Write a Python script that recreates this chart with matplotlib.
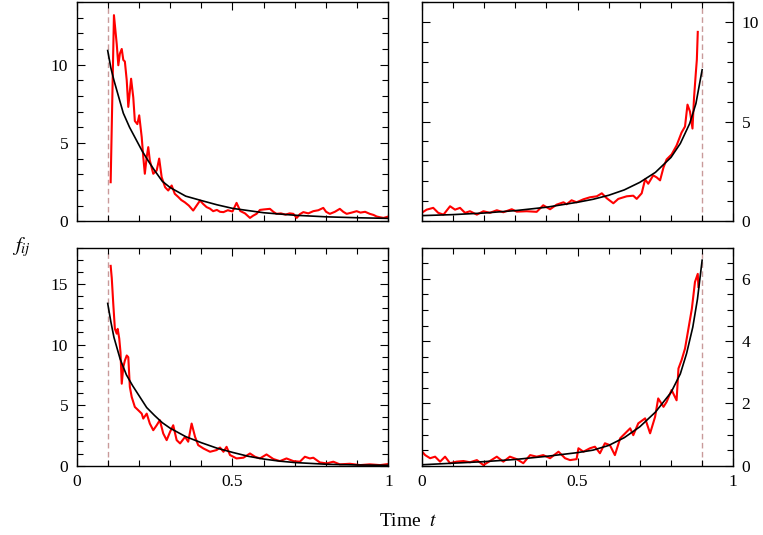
import matplotlib
matplotlib.use("Agg")
import matplotlib.pyplot as plt
from matplotlib.ticker import MultipleLocator

plt.rcParams['font.family'] = ['Liberation Serif', 'DejaVu Serif']
plt.rcParams['mathtext.fontset'] = 'stix'

# ---------------- data ----------------
# Top-left
tl_red_t = [0.1095, 0.12, 0.129, 0.134, 0.139, 0.145, 0.150, 0.155, 0.161, 0.166, 0.175, 0.182, 0.187,
            0.195, 0.201, 0.209, 0.214, 0.219, 0.225, 0.230, 0.235, 0.246, 0.257, 0.265, 0.273, 0.284,
            0.294, 0.305, 0.315, 0.326, 0.336, 0.347, 0.36, 0.374, 0.385, 0.396, 0.406, 0.417, 0.428,
            0.438, 0.45, 0.46, 0.471, 0.485, 0.50, 0.513, 0.525, 0.540, 0.556, 0.566, 0.577, 0.588,
            0.60, 0.62, 0.631, 0.641, 0.655, 0.67, 0.683, 0.695, 0.706, 0.716, 0.727, 0.743, 0.759,
            0.775, 0.791, 0.80, 0.812, 0.828, 0.844, 0.855, 0.866, 0.882, 0.898, 0.91, 0.925, 0.94,
            0.952, 0.962, 0.973, 0.984, 1.0]
tl_red_y = [2.49, 13.16, 11.3, 9.96, 10.7, 11.0, 10.3, 10.2, 9.0, 7.3, 9.1, 7.9, 6.4,
            6.2, 6.76, 5.37, 4.1, 3.03, 4.1, 4.73, 3.88, 3.03, 3.24, 4.0, 2.81, 2.17,
            1.96, 2.28, 1.75, 1.55, 1.35, 1.21, 1.0, 0.68, 1.0, 1.32, 1.1, 0.9, 0.8,
            0.64, 0.72, 0.6, 0.58, 0.7, 0.62, 1.17, 0.65, 0.5, 0.21, 0.35, 0.47, 0.72,
            0.75, 0.79, 0.6, 0.47, 0.5, 0.42, 0.5, 0.47, 0.21, 0.45, 0.58, 0.5, 0.64,
            0.7, 0.85, 0.6, 0.47, 0.6, 0.79, 0.6, 0.47, 0.55, 0.64, 0.55, 0.6, 0.47,
            0.4, 0.30, 0.25, 0.21, 0.3]
tl_blk_t = [0.1, 0.11, 0.12, 0.13, 0.14, 0.15, 0.17, 0.19, 0.21, 0.23, 0.25, 0.275, 0.30, 0.35,
            0.40, 0.45, 0.50, 0.60, 0.70, 0.80, 0.90, 1.0]
tl_blk_y = [10.9, 9.8, 9.0, 8.3, 7.6, 6.9, 6.0, 5.25, 4.5, 3.85, 3.25, 2.55, 2.15, 1.6,
            1.32, 1.05, 0.82, 0.54, 0.38, 0.28, 0.22, 0.18]

# Top-right
tr_red_t = [0.0, 0.016, 0.037, 0.053, 0.07, 0.091, 0.107, 0.123, 0.139, 0.155, 0.177, 0.198,
            0.219, 0.241, 0.262, 0.289, 0.305, 0.337, 0.369, 0.39, 0.412, 0.433, 0.455, 0.465,
            0.481, 0.497, 0.519, 0.54, 0.562, 0.578, 0.594, 0.615, 0.631, 0.658, 0.679, 0.69,
            0.706, 0.717, 0.727, 0.743, 0.754, 0.765, 0.776, 0.786, 0.802, 0.818, 0.834, 0.845,
            0.853, 0.861, 0.869, 0.874, 0.88, 0.883, 0.886]
tr_red_y = [0.42, 0.58, 0.67, 0.42, 0.33, 0.75, 0.58, 0.67, 0.42, 0.5, 0.33, 0.5,
            0.42, 0.55, 0.45, 0.6, 0.48, 0.5, 0.47, 0.8, 0.6, 0.83, 0.95, 0.85,
            1.05, 0.95, 1.1, 1.2, 1.25, 1.4, 1.15, 0.9, 1.12, 1.25, 1.28, 1.12,
            1.4, 2.1, 1.88, 2.3, 2.2, 2.05, 2.7, 3.1, 3.35, 3.8, 4.45, 4.75,
            5.85, 5.5, 4.65, 6.2, 7.5, 8.1, 9.5]
tr_blk_t = [0.0, 0.1, 0.2, 0.3, 0.4, 0.5, 0.55, 0.6, 0.65, 0.7, 0.75, 0.8, 0.83, 0.86, 0.88, 0.9]
tr_blk_y = [0.28, 0.33, 0.41, 0.53, 0.7, 0.95, 1.1, 1.3, 1.57, 1.95, 2.45, 3.2, 3.9, 4.9, 5.9, 7.6]

# Bottom-left
bl_red_t = [0.1095, 0.113, 0.118, 0.123, 0.129, 0.132, 0.137, 0.141, 0.145, 0.150, 0.155, 0.161,
            0.166, 0.171, 0.177, 0.187, 0.198, 0.209, 0.214, 0.225, 0.235, 0.246, 0.257, 0.267,
            0.278, 0.289, 0.30, 0.31, 0.321, 0.332, 0.348, 0.358, 0.369, 0.38, 0.39, 0.407,
            0.428, 0.449, 0.46, 0.471, 0.481, 0.492, 0.513, 0.535, 0.556, 0.572, 0.588, 0.609,
            0.631, 0.652, 0.673, 0.695, 0.716, 0.732, 0.748, 0.759, 0.78, 0.802, 0.823, 0.844,
            0.876, 0.909, 0.94, 0.973, 1.0]
bl_red_y = [16.5, 15.5, 13.3, 11.3, 10.9, 11.3, 10.5, 9.37, 6.77, 8.14, 8.68, 9.1,
            8.96, 6.5, 5.67, 4.85, 4.58, 4.3, 3.89, 4.3, 3.48, 2.93, 3.34, 3.76,
            2.66, 2.11, 2.8, 3.34, 2.11, 1.84, 2.38, 1.98, 3.48, 2.38, 1.7, 1.42,
            1.15, 1.29, 1.5, 1.15, 1.56, 0.88, 0.6, 0.66, 1.01, 0.74, 0.6, 0.93,
            0.55, 0.38, 0.6, 0.38, 0.33, 0.74, 0.6, 0.66, 0.27, 0.19, 0.33, 0.11,
            0.16, 0.05, 0.11, 0.05, 0.14]
bl_blk_t = [0.1, 0.11, 0.12, 0.14, 0.16, 0.18, 0.2, 0.225, 0.25, 0.275, 0.3, 0.35, 0.4, 0.45,
            0.5, 0.55, 0.6, 0.65, 0.7, 0.8, 0.9, 1.0]
bl_blk_y = [13.4, 11.9, 10.6, 8.8, 7.5, 6.6, 5.8, 4.8, 4.15, 3.55, 3.1, 2.4, 1.9, 1.45,
            1.1, 0.78, 0.55, 0.38, 0.26, 0.12, 0.06, 0.03]

# Bottom-right
br_red_t = [0.0, 0.011, 0.027, 0.043, 0.059, 0.075, 0.091, 0.112, 0.134, 0.155, 0.177, 0.198,
            0.219, 0.241, 0.262, 0.283, 0.305, 0.326, 0.348, 0.369, 0.39, 0.412, 0.439, 0.46,
            0.476, 0.497, 0.503, 0.519, 0.54, 0.556, 0.572, 0.588, 0.604, 0.62, 0.637, 0.653,
            0.669, 0.679, 0.695, 0.717, 0.733, 0.749, 0.759, 0.776, 0.786, 0.802, 0.818, 0.824,
            0.834, 0.845, 0.856, 0.867, 0.877, 0.886, 0.888]
br_red_y = [0.47, 0.34, 0.24, 0.29, 0.13, 0.29, 0.08, 0.13, 0.15, 0.11, 0.18, 0.02,
            0.15, 0.29, 0.13, 0.29, 0.21, 0.08, 0.34, 0.29, 0.34, 0.24, 0.45, 0.24,
            0.18, 0.21, 0.56, 0.45, 0.56, 0.61, 0.4, 0.72, 0.66, 0.34, 0.88, 1.04,
            1.2, 0.98, 1.36, 1.52, 1.04, 1.57, 2.16, 1.89, 2.05, 2.43, 2.1, 3.12,
            3.39, 3.76, 4.4, 5.04, 5.9, 6.16, 5.74]
br_blk_t = [0.0, 0.1, 0.2, 0.3, 0.4, 0.5, 0.55, 0.6, 0.65, 0.7, 0.75, 0.8, 0.83, 0.85, 0.87,
            0.885, 0.9]
br_blk_y = [0.03, 0.08, 0.13, 0.2, 0.3, 0.42, 0.5, 0.65, 0.9, 1.25, 1.72, 2.35, 2.95, 3.6, 4.45,
            5.35, 6.6]

x_ticks = [0, 0.5, 1]
x_tick_labels = ["0", "0.5", "1"]
dash_pos = [0.1, 0.9, 0.1, 0.9]
ylims = [14, 11, 18, 7]
ymajor = [5, 5, 5, 2]
yminor = [1, 1, 1, 0.5]

# ---------------- figure ----------------
W, H = 763, 535
fig = plt.figure(figsize=(W / 100, H / 100), dpi=100)

def fx(px):
    return px / W

def fy(py):
    return 1 - py / H

lx0, lx1 = 76.5, 388.5
rx0, rx1 = 421.7, 733.3
ty0, ty1 = 2.0, 221.2
by0, by1 = 247.7, 465.7

boxes = [
    [fx(lx0), fy(ty1), fx(lx1) - fx(lx0), fy(ty0) - fy(ty1)],
    [fx(rx0), fy(ty1), fx(rx1) - fx(rx0), fy(ty0) - fy(ty1)],
    [fx(lx0), fy(by1), fx(lx1) - fx(lx0), fy(by0) - fy(by1)],
    [fx(rx0), fy(by1), fx(rx1) - fx(rx0), fy(by0) - fy(by1)],
]

series = [
    (tl_red_t, tl_red_y, tl_blk_t, tl_blk_y),
    (tr_red_t, tr_red_y, tr_blk_t, tr_blk_y),
    (bl_red_t, bl_red_y, bl_blk_t, bl_blk_y),
    (br_red_t, br_red_y, br_blk_t, br_blk_y),
]

for i, (box, (rt, ry, bt, by)) in enumerate(zip(boxes, series)):
    ax = fig.add_axes(box)
    ax.axvline(dash_pos[i], color='#c99a9a', lw=1.0, ls=(0, (4, 2.5)), zorder=1)
    ax.plot(rt, ry, color='#ff0000', lw=1.5, zorder=2)
    ax.plot(bt, by, color='black', lw=1.2, zorder=3)
    ax.set_xlim(0, 1)
    ax.set_ylim(0, ylims[i])
    ax.xaxis.set_major_locator(MultipleLocator(0.5))
    ax.xaxis.set_minor_locator(MultipleLocator(0.1))
    ax.yaxis.set_major_locator(MultipleLocator(ymajor[i]))
    ax.yaxis.set_minor_locator(MultipleLocator(yminor[i]))
    ax.tick_params(which='both', direction='in', top=True, bottom=True, left=True, right=True,
                   labelsize=12.5, width=0.8)
    ax.tick_params(which='major', length=6)
    ax.tick_params(which='minor', length=4)
    for s in ax.spines.values():
        s.set_linewidth(1.0)
    if i < 2:
        ax.tick_params(labelbottom=False)
    else:
        ax.set_xticks(x_ticks)
        ax.set_xticklabels(x_tick_labels)
        ax.tick_params(axis='x', pad=6)
    if i % 2 == 1:
        ax.tick_params(axis='y', labelleft=False, labelright=True, pad=6)
    else:
        ax.tick_params(axis='y', pad=6)

fig.text(fx(22), fy(247), r"$f_{ij}$", fontsize=15, ha='center', va='center')
fig.text(fx(408), fy(522), r"Time  $t$", fontsize=14, ha='center', va='center')

fig.savefig("out.png", dpi=100)
